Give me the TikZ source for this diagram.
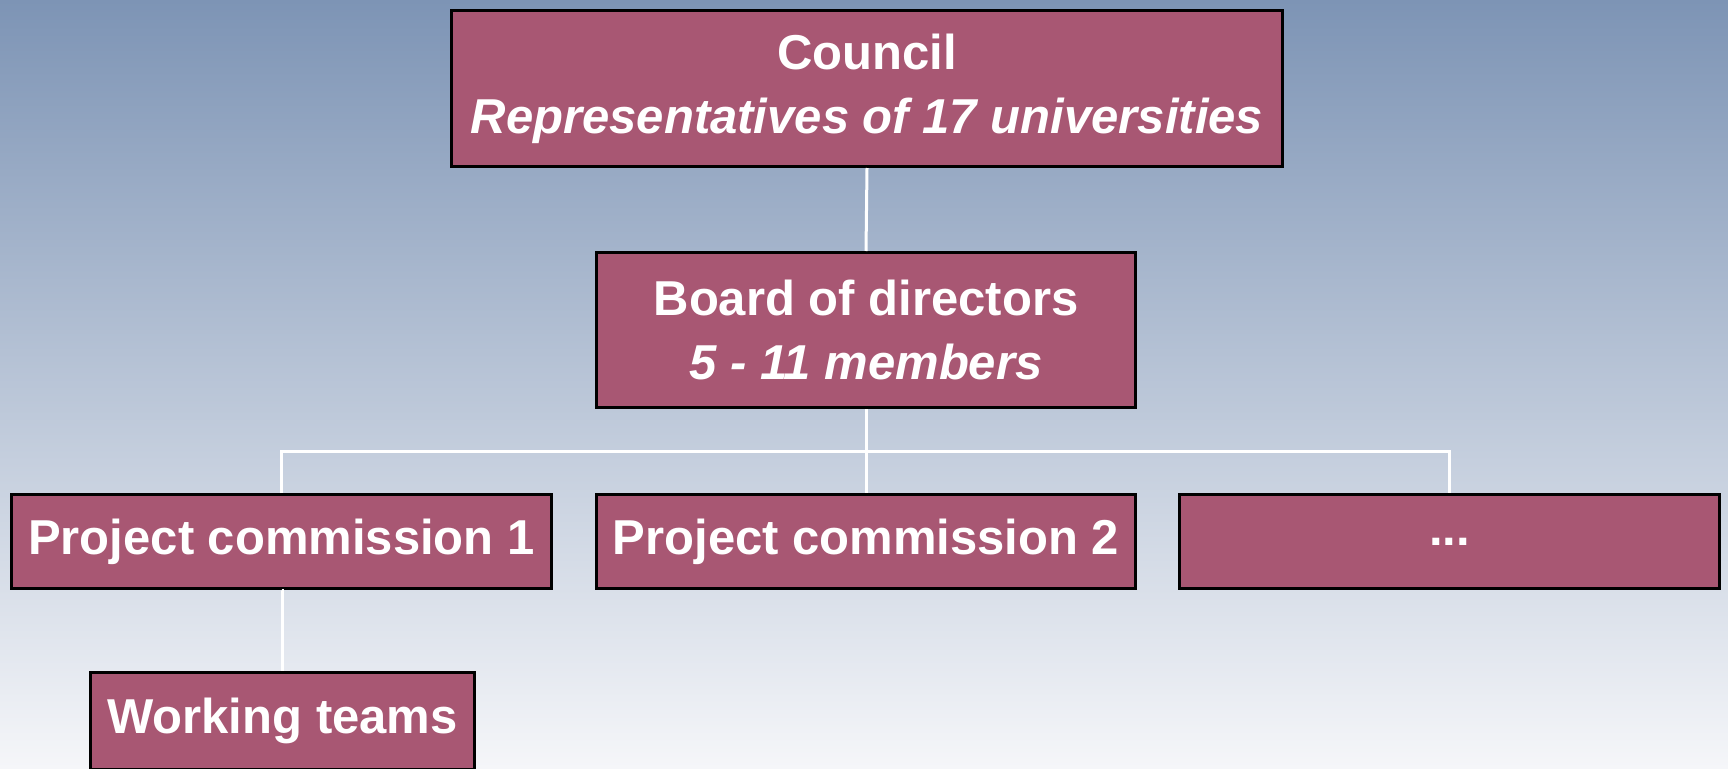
\documentclass[tikz,border=0pt]{standalone}
\usepackage{fontspec}
\setmainfont{Liberation Sans}
\definecolor{boxfill}{RGB}{168,87,115}
\definecolor{bgtop}{RGB}{125,148,181}
\definecolor{bgmid}{RGB}{203,210,223}
\definecolor{bgbot}{RGB}{245,246,249}
\begin{document}
\begin{tikzpicture}[x=1pt,y=-1pt,
  orgbox/.style={draw=black,line width=3pt,fill=boxfill,text=white,
    font=\fontsize{49}{64}\selectfont\bfseries,align=center,inner sep=0pt},
  link/.style={draw=white,line width=3pt}]
\useasboundingbox (0,0) rectangle (1728,768);
\clip (0,0) rectangle (1728,768);
\shade[top color=bgtop,middle color=bgmid,bottom color=bgbot] (0,0) rectangle (1728,768);
\node[orgbox,minimum width=831pt,minimum height=156pt] (council) at (867,88.5)
  {Council\\\itshape Representatives of 17 universities};
\node[orgbox,minimum width=539pt,minimum height=155pt] (board) at (866,330)
  {Board of directors\\\itshape 5 - 11 members};
\node[orgbox,minimum width=540pt,minimum height=94pt] (pc1) at (281.5,541.5) {Project commission 1};
\node[orgbox,minimum width=539pt,minimum height=94pt] (pc2) at (866,541.5) {Project commission 2};
\node[orgbox,minimum width=540pt,minimum height=94pt] (pc3) at (1449.5,541.5) {...};
\node[orgbox,minimum width=384pt,minimum height=97pt] (wt) at (282.5,721) {Working teams};
\coordinate (bus) at (0,451);
\draw[link] (council.south) -- (board.north);
\draw[link] (board.south) -- (pc2.north);
\draw[link] (pc1.north) -- (pc1.north |- bus) -- (pc3.north |- bus) -- (pc3.north);
\draw[link] (pc1.south) -- (pc1.south -| wt.north) -- (wt.north);
\end{tikzpicture}
\end{document}
